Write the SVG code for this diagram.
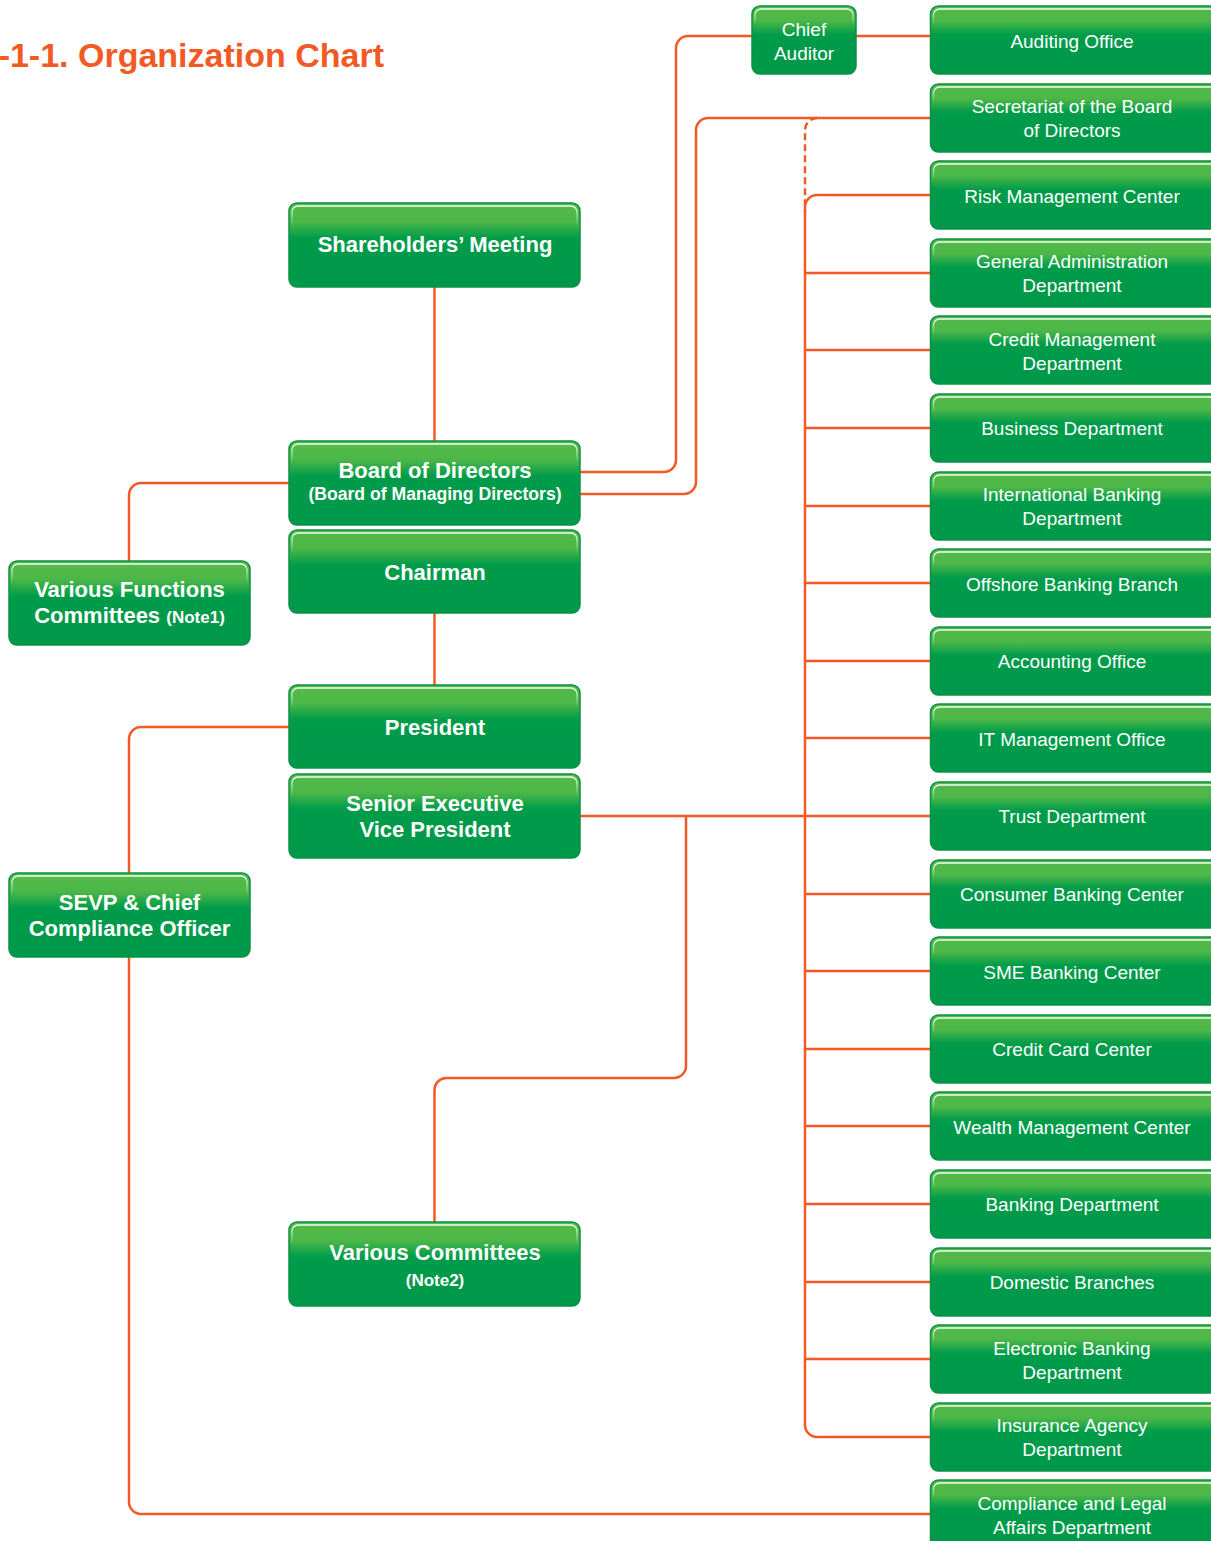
<svg xmlns="http://www.w3.org/2000/svg" width="1211" height="1541" viewBox="0 0 1211 1541">
<defs>
<linearGradient id="g" x1="0" y1="0" x2="0" y2="1">
<stop offset="0" stop-color="#55ba48"/>
<stop offset="0.22" stop-color="#4cb748"/>
<stop offset="0.42" stop-color="#009c4a"/>
<stop offset="1" stop-color="#00984a"/>
</linearGradient>
<linearGradient id="h" x1="0" y1="0" x2="0" y2="1">
<stop offset="0" stop-color="#ffffff" stop-opacity="0.95"/>
<stop offset="0.1" stop-color="#ffffff" stop-opacity="0.5"/>
<stop offset="0.25" stop-color="#ffffff" stop-opacity="0"/>
</linearGradient>
<style>
.ln{fill:none;stroke:#f15a24;stroke-width:2.5}
.dash{stroke-dasharray:7 4}
.bx{fill:url(#g);stroke:#0a9146;stroke-width:1.5}
.hl{fill:none;stroke:url(#h);stroke-width:1.5}
.tb{font-family:"Liberation Sans",Arial,sans-serif;font-weight:bold;fill:#ffffff;text-anchor:middle;font-size:22px}
.sm{font-size:17px}
.sb{font-size:17.6px}
.tr{font-family:"Liberation Sans",Arial,sans-serif;fill:#ffffff;text-anchor:middle;font-size:19px}
.title{font-family:"Liberation Sans",Arial,sans-serif;font-weight:bold;fill:#f15a24;font-size:34px;text-anchor:end}
</style>
</defs>
<rect width="1211" height="1541" fill="#ffffff"/>
<text class="title" x="384" y="67">-1-1. Organization Chart</text>

<g id="connectors">
<path class="ln" d="M434.5,287 V441"/>
<path class="ln" d="M580,472 H664 A12,12 0 0 0 676,460 V48 A12,12 0 0 1 688,36 H752"/>
<path class="ln" d="M856,36 H930"/>
<path class="ln" d="M580,494 H684 A12,12 0 0 0 696,482 V130 A12,12 0 0 1 708,118 H930"/>
<path class="ln dash" d="M817,118 A12,12 0 0 0 805,130 V212"/>
<path class="ln" d="M930,195 H817 A12,12 0 0 0 805,207 V1425 A12,12 0 0 0 817,1437 H930"/>
<path class="ln" d="M805,273 H930 M805,350 H930 M805,428 H930 M805,506 H930 M805,583 H930 M805,661 H930 M805,738 H930 M805,894 H930 M805,971 H930 M805,1049 H930 M805,1126 H930 M805,1204 H930 M805,1282 H930 M805,1359 H930"/>
<path class="ln" d="M289,483 H141 A12,12 0 0 0 129,495 V561"/>
<path class="ln" d="M434.5,613 V685"/>
<path class="ln" d="M289,727 H141 A12,12 0 0 0 129,739 V873"/>
<path class="ln" d="M129,957 V1502 A12,12 0 0 0 141,1514 H930"/>
<path class="ln" d="M580,816 H930"/>
<path class="ln" d="M686,816 V1066 A12,12 0 0 1 674,1078 H446 A12,12 0 0 0 434.5,1090 V1222"/>
</g>

<g id="shareholders">
<rect class="bx" x="289" y="203" width="291" height="84" rx="8"/>
<rect class="hl" x="292" y="206" width="285" height="78" rx="6"/>
<text class="tb" x="435" y="252">Shareholders’ Meeting</text>
</g>
<g id="board">
<rect class="bx" x="289" y="441" width="291" height="84" rx="8"/>
<rect class="hl" x="292" y="444" width="285" height="78" rx="6"/>
<text class="tb" x="435" y="478">Board of Directors</text>
<text class="tb sb" x="435" y="500">(Board of Managing Directors)</text>
</g>
<g id="chairman">
<rect class="bx" x="289" y="530" width="291" height="83" rx="8"/>
<rect class="hl" x="292" y="533" width="285" height="77" rx="6"/>
<text class="tb" x="435" y="580">Chairman</text>
</g>
<g id="president">
<rect class="bx" x="289" y="685" width="291" height="83" rx="8"/>
<rect class="hl" x="292" y="688" width="285" height="77" rx="6"/>
<text class="tb" x="435" y="735">President</text>
</g>
<g id="sevp">
<rect class="bx" x="289" y="774" width="291" height="84" rx="8"/>
<rect class="hl" x="292" y="777" width="285" height="78" rx="6"/>
<text class="tb" x="435" y="811">Senior Executive</text>
<text class="tb" x="435" y="837">Vice President</text>
</g>
<g id="various-committees">
<rect class="bx" x="289" y="1222" width="291" height="84" rx="8"/>
<rect class="hl" x="292" y="1225" width="285" height="78" rx="6"/>
<text class="tb" x="435" y="1260">Various Committees</text>
<text class="tb sm" x="435" y="1286">(Note2)</text>
</g>
<g id="various-functions">
<rect class="bx" x="9" y="561" width="241" height="84" rx="8"/>
<rect class="hl" x="12" y="564" width="235" height="78" rx="6"/>
<text class="tb" x="129.5" y="597">Various Functions</text>
<text class="tb" x="129.5" y="623">Committees <tspan class="sm">(Note1)</tspan></text>
</g>
<g id="sevp-cco">
<rect class="bx" x="9" y="873" width="241" height="84" rx="8"/>
<rect class="hl" x="12" y="876" width="235" height="78" rx="6"/>
<text class="tb" x="129.5" y="910">SEVP &amp; Chief</text>
<text class="tb" x="129.5" y="936">Compliance Officer</text>
</g>
<g id="chief-auditor">
<rect class="bx" x="752" y="6" width="104" height="68" rx="8"/>
<rect class="hl" x="755" y="9" width="98" height="62" rx="6"/>
<text class="tr" x="804" y="36">Chief</text>
<text class="tr" x="804" y="60">Auditor</text>
</g>

<g id="auditing-office">
<rect class="bx" x="930.5" y="6" width="290" height="68" rx="8"/>
<rect class="hl" x="933.5" y="9" width="284" height="62" rx="6"/>
<text class="tr" x="1072" y="47.5">Auditing Office</text>
</g>
<g id="secretariat">
<rect class="bx" x="930.5" y="84" width="290" height="68" rx="8"/>
<rect class="hl" x="933.5" y="87" width="284" height="62" rx="6"/>
<text class="tr" x="1072" y="113">Secretariat of the Board</text>
<text class="tr" x="1072" y="137">of Directors</text>
</g>
<g id="risk">
<rect class="bx" x="930.5" y="161" width="290" height="68" rx="8"/>
<rect class="hl" x="933.5" y="164" width="284" height="62" rx="6"/>
<text class="tr" x="1072" y="202.5">Risk Management Center</text>
</g>
<g id="general-admin">
<rect class="bx" x="930.5" y="239" width="290" height="68" rx="8"/>
<rect class="hl" x="933.5" y="242" width="284" height="62" rx="6"/>
<text class="tr" x="1072" y="268">General Administration</text>
<text class="tr" x="1072" y="292">Department</text>
</g>
<g id="credit-mgmt">
<rect class="bx" x="930.5" y="316" width="290" height="68" rx="8"/>
<rect class="hl" x="933.5" y="319" width="284" height="62" rx="6"/>
<text class="tr" x="1072" y="346">Credit Management</text>
<text class="tr" x="1072" y="370">Department</text>
</g>
<g id="business">
<rect class="bx" x="930.5" y="394" width="290" height="68" rx="8"/>
<rect class="hl" x="933.5" y="397" width="284" height="62" rx="6"/>
<text class="tr" x="1072" y="435">Business Department</text>
</g>
<g id="intl-banking">
<rect class="bx" x="930.5" y="472" width="290" height="68" rx="8"/>
<rect class="hl" x="933.5" y="475" width="284" height="62" rx="6"/>
<text class="tr" x="1072" y="501">International Banking</text>
<text class="tr" x="1072" y="525">Department</text>
</g>
<g id="offshore">
<rect class="bx" x="930.5" y="549" width="290" height="68" rx="8"/>
<rect class="hl" x="933.5" y="552" width="284" height="62" rx="6"/>
<text class="tr" x="1072" y="590.5">Offshore Banking Branch</text>
</g>
<g id="accounting">
<rect class="bx" x="930.5" y="627" width="290" height="68" rx="8"/>
<rect class="hl" x="933.5" y="630" width="284" height="62" rx="6"/>
<text class="tr" x="1072" y="668">Accounting Office</text>
</g>
<g id="it-mgmt">
<rect class="bx" x="930.5" y="704" width="290" height="68" rx="8"/>
<rect class="hl" x="933.5" y="707" width="284" height="62" rx="6"/>
<text class="tr" x="1072" y="745.5">IT Management Office</text>
</g>
<g id="trust">
<rect class="bx" x="930.5" y="782" width="290" height="68" rx="8"/>
<rect class="hl" x="933.5" y="785" width="284" height="62" rx="6"/>
<text class="tr" x="1072" y="823">Trust Department</text>
</g>
<g id="consumer">
<rect class="bx" x="930.5" y="860" width="290" height="68" rx="8"/>
<rect class="hl" x="933.5" y="863" width="284" height="62" rx="6"/>
<text class="tr" x="1072" y="901">Consumer Banking Center</text>
</g>
<g id="sme">
<rect class="bx" x="930.5" y="937" width="290" height="68" rx="8"/>
<rect class="hl" x="933.5" y="940" width="284" height="62" rx="6"/>
<text class="tr" x="1072" y="978.5">SME Banking Center</text>
</g>
<g id="credit-card">
<rect class="bx" x="930.5" y="1015" width="290" height="68" rx="8"/>
<rect class="hl" x="933.5" y="1018" width="284" height="62" rx="6"/>
<text class="tr" x="1072" y="1056">Credit Card Center</text>
</g>
<g id="wealth">
<rect class="bx" x="930.5" y="1092" width="290" height="68" rx="8"/>
<rect class="hl" x="933.5" y="1095" width="284" height="62" rx="6"/>
<text class="tr" x="1072" y="1133.5">Wealth Management Center</text>
</g>
<g id="banking-dept">
<rect class="bx" x="930.5" y="1170" width="290" height="68" rx="8"/>
<rect class="hl" x="933.5" y="1173" width="284" height="62" rx="6"/>
<text class="tr" x="1072" y="1211">Banking Department</text>
</g>
<g id="domestic">
<rect class="bx" x="930.5" y="1248" width="290" height="68" rx="8"/>
<rect class="hl" x="933.5" y="1251" width="284" height="62" rx="6"/>
<text class="tr" x="1072" y="1289">Domestic Branches</text>
</g>
<g id="electronic">
<rect class="bx" x="930.5" y="1325" width="290" height="68" rx="8"/>
<rect class="hl" x="933.5" y="1328" width="284" height="62" rx="6"/>
<text class="tr" x="1072" y="1355">Electronic Banking</text>
<text class="tr" x="1072" y="1379">Department</text>
</g>
<g id="insurance">
<rect class="bx" x="930.5" y="1403" width="290" height="68" rx="8"/>
<rect class="hl" x="933.5" y="1406" width="284" height="62" rx="6"/>
<text class="tr" x="1072" y="1432">Insurance Agency</text>
<text class="tr" x="1072" y="1456">Department</text>
</g>
<g id="compliance-legal">
<rect class="bx" x="930.5" y="1480" width="290" height="68" rx="8"/>
<rect class="hl" x="933.5" y="1483" width="284" height="62" rx="6"/>
<text class="tr" x="1072" y="1510">Compliance and Legal</text>
<text class="tr" x="1072" y="1534">Affairs Department</text>
</g>
</svg>
